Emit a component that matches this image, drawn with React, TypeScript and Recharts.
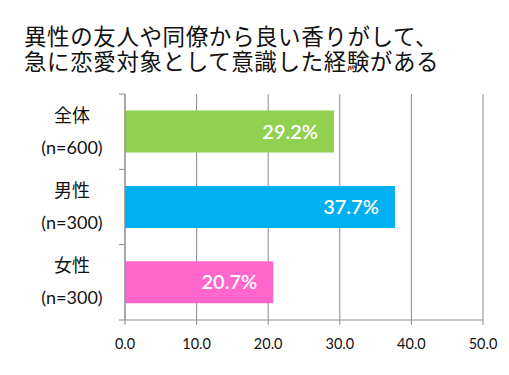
import * as React from "react";
import {
  Bar,
  BarChart,
  CartesianGrid,
  Cell,
  LabelList,
  XAxis,
  YAxis,
} from "recharts";

const TITLE_LINES = [
  "異性の友人や同僚から良い香りがして、",
  "急に恋愛対象として意識した経験がある",
];

const GROUPS = ["全体", "男性", "女性"];
const SAMPLE_SIZES = ["(n=600)", "(n=300)", "(n=300)"];
const VALUES = [29.2, 37.7, 20.7];
const COLORS = ["#92D050", "#00B0F0", "#FF66CC"];
const X_TICKS = [0, 10, 20, 30, 40, 50];

const WIDTH = 509;
const HEIGHT = 375;
const MARGIN = { top: 94, right: 26, bottom: 25, left: 0 };
const Y_AXIS_WIDTH = 125;
const X_AXIS_HEIGHT = 30;
const AXIS_COLOR = "#8c8c8c";
const LABEL_FONT = "'Noto Sans CJK JP', 'Open Sans', sans-serif";
const NUM_FONT = "Lato, 'Open Sans', sans-serif";

const PLOT_HEIGHT = HEIGHT - MARGIN.top - MARGIN.bottom - X_AXIS_HEIGHT;
const BAND = PLOT_HEIGHT / GROUPS.length;

const data = GROUPS.map((g, i) => ({
  name: g,
  n: SAMPLE_SIZES[i],
  value: VALUES[i],
}));

function GroupTick(props: any) {
  const { x, y, payload, index } = props;
  const row = data[index] ?? data.find((d) => d.name === payload.value);
  const axisX = x + 8;
  return (
    <g>
      <line x1={axisX - 6} x2={axisX} y1={y - BAND / 2} y2={y - BAND / 2} stroke={AXIS_COLOR} />
      {index === GROUPS.length - 1 && (
        <line x1={axisX - 6} x2={axisX} y1={y + BAND / 2} y2={y + BAND / 2} stroke={AXIS_COLOR} />
      )}
      <text x={72} y={y - 10} textAnchor="middle" fontSize={18} fill="#111" fontFamily={LABEL_FONT}>
        {payload.value}
      </text>
      <text x={72} y={y + 22} textAnchor="middle" fontSize={18} fill="#111" fontFamily={NUM_FONT}>
        {row?.n}
      </text>
    </g>
  );
}

// two-line title as one text element
function Title() {
  return (
    <text
      x={24}
      y={45}
      fontSize={22.5}
      letterSpacing={0.6}
      fill="#111"
      fontFamily="'Noto Sans CJK JP', sans-serif"
    >
      {TITLE_LINES.map((t, i) => (
        <tspan key={t} x={24} dy={i === 0 ? 0 : 25}>
          {t}
        </tspan>
      ))}
    </text>
  );
}

export default function App() {
  return (
    <div
      style={{
        position: "absolute",
        left: 0,
        top: 0,
        width: WIDTH,
        height: HEIGHT,
        background: "#fff",
      }}
    >
      <svg width={WIDTH} height={90} style={{ position: "absolute", left: 0, top: 0 }}>
        <Title />
      </svg>
      <BarChart
        width={WIDTH}
        height={HEIGHT}
        data={data}
        layout="vertical"
        margin={MARGIN}
        barCategoryGap="22%"
      >
        <CartesianGrid horizontal={false} stroke={AXIS_COLOR} />
        <XAxis
          type="number"
          domain={[0, 50]}
          ticks={X_TICKS}
          height={X_AXIS_HEIGHT}
          tickFormatter={(v: number) => v.toFixed(1)}
          stroke={AXIS_COLOR}
          tickSize={5}
          tick={{ fill: "#111", fontSize: 14.5, fontFamily: NUM_FONT }}
          tickMargin={14}
        />
        <YAxis
          type="category"
          dataKey="name"
          width={Y_AXIS_WIDTH}
          stroke={AXIS_COLOR}
          tickLine={false}
          tickSize={0}
          tickMargin={8}
          tick={<GroupTick />}
          interval={0}
        />
        <Bar dataKey="value" isAnimationActive={false}>
          {data.map((d, i) => (
            <Cell key={d.name} fill={COLORS[i]} />
          ))}
          <LabelList
            dataKey="value"
            position="insideRight"
            offset={16}
            formatter={(v: any) => `${Number(v).toFixed(1)}%`}
            fill="#fff"
            fontSize={20}
            fontWeight={600}
            fontFamily={NUM_FONT}
          />
        </Bar>
      </BarChart>
    </div>
  );
}
